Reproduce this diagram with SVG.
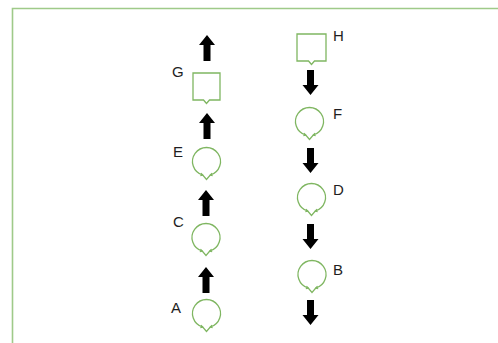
<svg xmlns="http://www.w3.org/2000/svg" width="498" height="343" viewBox="0 0 498 343">
<style>
.shape{fill:#fff;stroke:#7fb661;stroke-width:1.3;stroke-linejoin:miter}
.tick{fill:none;stroke:#7fb661;stroke-width:1.1}
.lbl{font-family:"Liberation Sans",Arial,sans-serif;font-size:15px;fill:#1e1e22}
.arr{fill:#000}
</style>
<defs>
<path id="loop" d="M-4,13.4 A14,14 0 1 1 4,13.4 L0,18 Z"/>
<path id="ticks" d="M-5.5,11.5 L-3.6,13.6 L-6.2,14.2 M5.5,11.5 L3.6,13.6 L6.2,14.2"/>
<path id="up" d="M0,0 L8,10 L3.5,10 L3.5,26 L-3.5,26 L-3.5,10 L-8,10 Z"/>
<path id="down" d="M0,25 L8,15 L3.5,15 L3.5,0 L-3.5,0 L-3.5,15 L-8,15 Z"/>
</defs>
<path d="M12.5,343 V8.5 H498" fill="none" stroke="#9fca89" stroke-width="1.6"/>
<g id="connectors">
<use href="#up" x="207" y="35" class="arr"/>
<use href="#up" x="207" y="113" class="arr"/>
<use href="#up" x="206" y="190" class="arr"/>
<use href="#up" x="206" y="267" class="arr"/>
<use href="#down" x="310.5" y="70" class="arr"/>
<use href="#down" x="310.5" y="148" class="arr"/>
<use href="#down" x="310.5" y="224" class="arr"/>
<use href="#down" x="310.5" y="300" class="arr"/>
</g>
<g id="G">
<path class="shape" d="M193,73 H220 V100 H209.5 L206.5,103.5 L203.5,100 H193 Z"/>
<text class="lbl" x="172" y="77">G</text>
</g>
<g id="E">
<use href="#loop" x="206.5" y="161.5" class="shape"/>
<use href="#ticks" x="206.5" y="161.5" class="tick"/>
<text class="lbl" x="173" y="157">E</text>
</g>
<g id="C">
<use href="#loop" x="206" y="237.5" class="shape"/>
<use href="#ticks" x="206" y="237.5" class="tick"/>
<text class="lbl" x="173" y="227">C</text>
</g>
<g id="A">
<use href="#loop" x="206.5" y="313.5" class="shape"/>
<use href="#ticks" x="206.5" y="313.5" class="tick"/>
<text class="lbl" x="171" y="313">A</text>
</g>
<g id="H">
<path class="shape" d="M297,34 H326 V61 H314.5 L311.5,64.5 L308.5,61 H297 Z"/>
<text class="lbl" x="333" y="41">H</text>
</g>
<g id="F">
<use href="#loop" x="309.5" y="121.5" class="shape"/>
<use href="#ticks" x="309.5" y="121.5" class="tick"/>
<text class="lbl" x="333" y="119">F</text>
</g>
<g id="D">
<use href="#loop" x="311.5" y="197.5" class="shape"/>
<use href="#ticks" x="311.5" y="197.5" class="tick"/>
<text class="lbl" x="333" y="195">D</text>
</g>
<g id="B">
<use href="#loop" x="312" y="274.5" class="shape"/>
<use href="#ticks" x="312" y="274.5" class="tick"/>
<text class="lbl" x="333" y="275">B</text>
</g>
</svg>
